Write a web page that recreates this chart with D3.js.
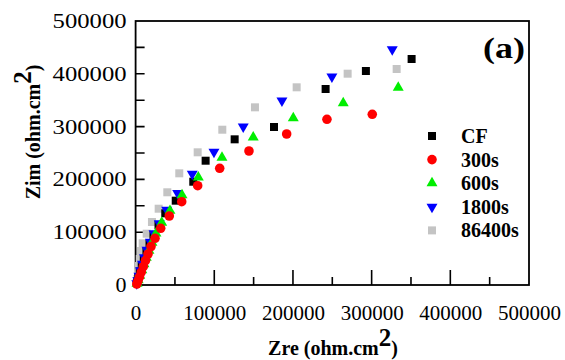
<!DOCTYPE html>
<html>
<head>
<meta charset="utf-8">
<script src="https://cdn.jsdelivr.net/npm/d3@7"></script>
<style>
  body { margin: 0; background: #fff; }
</style>
</head>
<body>
<svg id="chart" width="565" height="360"></svg>
<script>
// Nyquist data (ohm.cm2)
var seriesNames = ["CF", "300s", "600s", "1800s", "86400s"];

var zreCF = [350800, 292700, 241500, 175900, 125900, 89000, 73300, 51000, 37700, 29100, 22700, 17700, 13800, 10400, 7800, 5300, 3400, 1800];
var zimCF = [428000, 405300, 371200, 299200, 275900, 235400, 195600, 159700, 135800, 113600, 94700, 77600, 62500, 49200, 36900, 25600, 15200, 6600];

var zre300 = [300800, 243200, 192000, 144100, 106900, 78900, 58600, 42800, 31900, 24700, 19600, 15800, 12600, 9800, 7200, 5000, 3000, 1500];
var zim300 = [323300, 313800, 286000, 253800, 221000, 188100, 157800, 130700, 107400, 88400, 72900, 58700, 46400, 35000, 24600, 15200, 7600, 1900];

var zre600 = [333800, 263900, 200400, 149500, 109800, 79700, 59000, 43700, 33200, 25900, 20800, 17000, 13600, 10700, 7900, 5300, 3300, 1800];
var zim600 = [373700, 344700, 316300, 279700, 241100, 204000, 170500, 140700, 118000, 97900, 80500, 65300, 52100, 39800, 28400, 18000, 9500, 2800];

var zre1800 = [326200, 249500, 186000, 136800, 99600, 72000, 53500, 39500, 30100, 23400, 18700, 14500, 11300, 8800, 6200, 4300, 2800, 1500];
var zim1800 = [446400, 394500, 349000, 299800, 251900, 210200, 173700, 142000, 116800, 97900, 81400, 66300, 52100, 39800, 27500, 17000, 8500, 2800];

var zre86400 = [331800, 269500, 204700, 151700, 110200, 78900, 55500, 40300, 29300, 20800, 14100, 9000, 6900, 5300, 4100, 3000, 2200, 1100];
var zim86400 = [409100, 400200, 374400, 336500, 294100, 251300, 211500, 175600, 144500, 119300, 97200, 79000, 64400, 49200, 36000, 22700, 11400, 3800];

var xTicks = [0, 100000, 200000, 300000, 400000, 500000];
var yTicks = [0, 100000, 200000, 300000, 400000, 500000];
var minorTicks = [50000, 150000, 250000, 350000, 450000];

var FONT = "'Liberation Serif', 'Times New Roman', Times, serif";

var svg = d3.select("#chart");

var x = d3.scaleLinear().domain([0, 500000]).range([135.6, 529]);
var y = d3.scaleLinear().domain([0, 500000]).range([285, 21]);

// tick labels from d3 axes
var xAxis = svg.append("g").attr("transform", "translate(0,285)")
  .call(d3.axisBottom(x).tickValues(xTicks).tickSize(0).tickPadding(20).tickFormat(d3.format("d")));
xAxis.select(".domain").remove();
xAxis.selectAll("line").remove();
xAxis.selectAll("text").style("font-size", "21px").attr("dy", "0.71em").attr("y", 20);

var yAxis = svg.append("g").attr("transform", "translate(135.6,0)")
  .call(d3.axisLeft(y).tickValues(yTicks).tickSize(0).tickPadding(9).tickFormat(d3.format("d")));
yAxis.select(".domain").remove();
yAxis.selectAll("line").remove();
yAxis.selectAll("text")
  .style("font-size", "20px")
  .attr("x", -9)
  .attr("textLength", function(d) { return d === 0 ? 11 : 74; })
  .attr("lengthAdjust", "spacingAndGlyphs");

// inward tick marks as one path
var tickPath = [];
xTicks.slice(1, 5).forEach(function(d) { tickPath.push("M" + x(d) + "," + y(0) + "V" + (y(0) - 15)); });
minorTicks.forEach(function(d) { tickPath.push("M" + x(d) + "," + y(0) + "V" + (y(0) - 8)); });
yTicks.slice(1, 5).concat(minorTicks).forEach(function(d) { tickPath.push("M" + x(0) + "," + y(d) + "H" + (x(0) + 9)); });

svg.append("path")
  .attr("d", tickPath.join(""))
  .attr("fill", "none")
  .style("stroke", "#000")
  .style("stroke-width", "1.6px");

// frame
svg.append("rect")
  .attr("x", x(0)).attr("y", y(500000))
  .attr("width", x(500000) - x(0)).attr("height", y(0) - y(500000))
  .attr("fill", "none").attr("stroke", "#000").attr("stroke-width", 1.8);

// series, drawn back to front
var series = [
  { name: "86400s", zre: zre86400, zim: zim86400, color: "#c4c4c4", shape: d3.symbolSquare, size: 64, rot: 0 },
  { name: "CF", zre: zreCF, zim: zimCF, color: "#000000", shape: d3.symbolSquare, size: 64, rot: 0 },
  { name: "1800s", zre: zre1800, zim: zim1800, color: "#0000ff", shape: d3.symbolTriangle, size: 52, rot: 180 },
  { name: "600s", zre: zre600, zim: zim600, color: "#00ee00", shape: d3.symbolTriangle, size: 52, rot: 0 },
  { name: "300s", zre: zre300, zim: zim300, color: "#ff0000", shape: d3.symbolCircle, size: 72, rot: 0 }
];

series.forEach(function(s) {
  var sym = d3.symbol().type(s.shape).size(s.size);
  svg.append("g").selectAll("path")
    .data(d3.zip(s.zre, s.zim))
    .join("path")
    .attr("d", sym)
    .attr("fill", s.color)
    .attr("transform", function(d) {
      return "translate(" + x(d[0]) + "," + y(d[1]) + ") rotate(" + s.rot + ")";
    });
});

// legend
var legend = svg.append("g");
seriesNames.forEach(function(name, i) {
  var s = series.filter(function(e) { return e.name === name; })[0];
  var ly = 136 + i * 23.6;
  legend.append("path")
    .attr("d", d3.symbol().type(s.shape).size(s.size)())
    .attr("fill", s.color)
    .attr("transform", "translate(432," + ly + ") rotate(" + s.rot + ")");
  legend.append("text")
    .attr("x", 461).attr("y", ly + 7)
    .style("font-size", "20px").style("font-weight", "bold")
    .text(name);
});

// panel label
svg.append("text")
  .attr("x", 483).attr("y", 58)
  .attr("textLength", 42).attr("lengthAdjust", "spacingAndGlyphs")
  .style("font-size", "30px").style("font-weight", "bold")
  .text("(a)");

// axis titles
var xt = svg.append("text")
  .attr("x", 333).attr("y", 355)
  .attr("text-anchor", "middle")
  .style("font-size", "20px").style("font-weight", "bold");
xt.append("tspan").text("Zre (ohm.cm");
xt.append("tspan").attr("dy", -9).style("font-size", "25px").text("2");
xt.append("tspan").attr("dy", 9).text(")");

var yt = svg.append("text")
  .attr("transform", "translate(40,132) rotate(-90)")
  .attr("text-anchor", "middle")
  .style("font-size", "20px").style("font-weight", "bold");
yt.append("tspan").text("Zim (ohm.cm");
yt.append("tspan").attr("dy", -9).style("font-size", "25px").text("2");
yt.append("tspan").attr("dy", 9).text(")");

// same serif face and ink on every label
svg.selectAll("text").style("font-family", FONT).style("fill", "#000");
</script>
</body>
</html>
